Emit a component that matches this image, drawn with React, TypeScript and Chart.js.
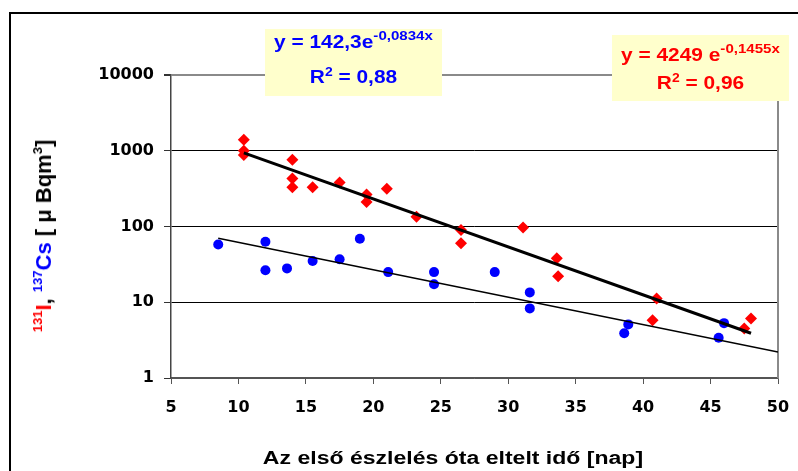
import React, { useEffect, useRef } from "react";
import { Chart, registerables } from "chart.js";

Chart.register(...registerables);

// I-131 measurements (red diamonds)
const iodineDays = [10.4, 10.4, 10.4, 14, 14, 14, 15.5, 17.5, 19.5, 19.5, 21, 23.2, 26.5, 26.5, 31.1, 33.6, 33.7, 40.7, 41, 47.5, 48];
const iodineValues = [1400, 1000, 880, 760, 430, 330, 330, 380, 265, 210, 315, 135, 90, 60, 97, 38, 22, 5.8, 11.2, 4.5, 6.1];

// Cs-137 measurements (blue circles)
const cesiumDays = [8.5, 12, 12, 13.6, 15.5, 17.5, 19, 21.1, 24.5, 24.5, 29, 31.6, 31.6, 38.6, 38.9, 45.6, 46];
const cesiumValues = [58, 63, 26.5, 28, 35, 37, 69, 25, 25, 17.3, 25, 13.5, 8.3, 3.9, 5.1, 3.4, 5.3];

// Exponential trendlines (straight on log axis): end points
const iodineTrendDays = [10.4, 48];
const iodineTrendValues = [936, 3.9];
const cesiumTrendDays = [8.5, 50];
const cesiumTrendValues = [70, 2.2];

// Axis ticks
const yTickValues = [1, 10, 100, 1000, 10000];
const xMin = 5;
const xMax = 50;
const xStep = 5;

const toPoints = (xs: number[], ys: number[]) => xs.map((x, i) => ({ x, y: ys[i] }));

const frameLines = {
  id: "frameLines",
  beforeDatasetsDraw(chart: any) {
    const { ctx, chartArea } = chart;
    ctx.save();
    ctx.strokeStyle = "#8a8a8a";
    ctx.lineWidth = 2;
    ctx.beginPath();
    ctx.moveTo(chartArea.right, chartArea.top);
    ctx.lineTo(chartArea.right, chartArea.bottom);
    ctx.stroke();
    ctx.restore();
  },
};

const tickFont = { family: "'DejaVu Sans', Arial, sans-serif", size: 16, weight: "bold" as const };

export default function App() {
  const canvasRef = useRef<HTMLCanvasElement | null>(null);

  useEffect(() => {
    document.body.style.margin = "0";
    const canvas = canvasRef.current;
    if (!canvas) return;
    const chart = new Chart(canvas, {
      type: "scatter",
      data: {
        datasets: [
          {
            label: "I-131 trend",
            data: toPoints(iodineTrendDays, iodineTrendValues),
            showLine: true,
            borderColor: "#000000",
            borderWidth: 3,
            pointRadius: 0,
            order: 0,
          },
          {
            label: "Cs-137 trend",
            data: toPoints(cesiumTrendDays, cesiumTrendValues),
            showLine: true,
            borderColor: "#000000",
            borderWidth: 1.5,
            pointRadius: 0,
            order: 0,
          },
          {
            label: "131I",
            data: toPoints(iodineDays, iodineValues),
            pointStyle: "rectRot",
            pointRadius: 6,
            backgroundColor: "#FF0000",
            borderColor: "#FF0000",
            borderWidth: 0,
            order: 1,
          },
          {
            label: "137Cs",
            data: toPoints(cesiumDays, cesiumValues),
            pointStyle: "circle",
            pointRadius: 5,
            backgroundColor: "#0000FF",
            borderColor: "#0000FF",
            borderWidth: 0,
            order: 1,
          },
        ],
      },
      options: {
        animation: false,
        responsive: false,
        maintainAspectRatio: false,
        layout: { padding: { top: 75, right: 20, bottom: 0, left: 0 } },
        plugins: { legend: { display: false }, tooltip: { enabled: false } },
        scales: {
          x: {
            type: "linear",
            min: xMin,
            max: xMax,
            afterFit: (s: any) => {
              s.height = 93;
              s.paddingLeft = 0;
              s.paddingRight = 0;
            },
            ticks: { stepSize: xStep, color: "#000", font: tickFont, padding: 14 },
            grid: { drawOnChartArea: false, drawTicks: true, tickLength: 6, color: "#555", tickColor: "#555" },
            border: { color: "#555", width: 1.5 },
          },
          y: {
            type: "logarithmic",
            min: 1,
            max: 10000,
            afterFit: (s: any) => {
              s.width = 171;
            },
            afterBuildTicks: (s: any) => {
              s.ticks = yTickValues.map((v) => ({ value: v }));
            },
            ticks: {
              color: "#000",
              font: tickFont,
              padding: 10,
              callback: (v: any) => String(v),
            },
            grid: {
              color: (c: any) => (c.tick && c.tick.value === 10000 ? "#8a8a8a" : c.tick && c.tick.value === 1 ? "#555" : "#000"),
              lineWidth: (c: any) => (c.tick && c.tick.value === 10000 ? 2 : 1),
              tickLength: 7,
              tickColor: "#333",
            },
            border: { color: "#444", width: 1.5 },
          },
        },
      },
      plugins: [frameLines],
    });
    return () => chart.destroy();
  }, []);

  const arial = "'Liberation Sans', Arial, sans-serif";
  const sup = (text: string, color: string, size: number, raise: number) => (
    <span style={{ fontSize: size, color, position: "relative", top: -raise, lineHeight: 0 }}>{text}</span>
  );

  return (
    <div style={{ position: "relative", width: 798, height: 471, overflow: "hidden", background: "#fff" }}>
      <div
        style={{
          position: "absolute",
          left: 9,
          top: 12,
          width: 900,
          height: 600,
          border: "2px solid #000",
          boxSizing: "border-box",
        }}
      />
      <canvas ref={canvasRef} width={798} height={471} style={{ position: "absolute", left: 0, top: 0, width: 798, height: 471 }} />

      {/* Cs-137 equation box */}
      <div style={{ position: "absolute", left: 265, top: 29, width: 177, height: 67, background: "#FFFFCC", fontFamily: arial, fontWeight: "bold", color: "#0000FF" }}>
        <div style={{ position: "absolute", left: 0, right: 0, top: 4, textAlign: "center", fontSize: 18, lineHeight: "18px", whiteSpace: "nowrap", transform: "scaleX(1.16)" }}>
          y = 142,3e{sup("-0,0834x", "#0000FF", 13, 8)}
        </div>
        <div style={{ position: "absolute", left: 0, right: 0, top: 39, textAlign: "center", fontSize: 18, lineHeight: "18px", whiteSpace: "nowrap", transform: "scaleX(1.16)" }}>
          R{sup("2", "#0000FF", 12, 7)} = 0,88
        </div>
      </div>

      {/* I-131 equation box */}
      <div style={{ position: "absolute", left: 612, top: 35, width: 177, height: 66, background: "#FFFFCC", fontFamily: arial, fontWeight: "bold", color: "#FF0000" }}>
        <div style={{ position: "absolute", left: 0, right: 0, top: 11, textAlign: "center", fontSize: 18, lineHeight: "18px", whiteSpace: "nowrap", transform: "scaleX(1.16)" }}>
          y = 4249 e{sup("-0,1455x", "#FF0000", 13, 8)}
        </div>
        <div style={{ position: "absolute", left: 0, right: 0, top: 39, textAlign: "center", fontSize: 18, lineHeight: "18px", whiteSpace: "nowrap", transform: "scaleX(1.16)" }}>
          R{sup("2", "#FF0000", 12, 7)} = 0,96
        </div>
      </div>

      {/* Y axis title */}
      <div
        style={{
          position: "absolute",
          left: 44,
          top: 236,
          transform: "translate(-50%, -50%) rotate(-90deg)",
          fontFamily: arial,
          fontWeight: "bold",
          fontSize: 22,
          lineHeight: "22px",
          whiteSpace: "nowrap",
          color: "#000",
        }}
      >
        {sup("131", "#FF0000", 13, 9)}
        <span style={{ color: "#FF0000" }}>I</span>,{" "}
        {sup("137", "#0000FF", 13, 9)}
        <span style={{ color: "#0000FF" }}>Cs</span> [ μ Bqm{sup("3", "#000", 13, 9)}]
      </div>

      {/* X axis title */}
      <div
        style={{
          position: "absolute",
          left: 453,
          top: 449,
          transform: "translateX(-50%) scaleX(1.28)",
          fontFamily: arial,
          fontWeight: "bold",
          fontSize: 18,
          lineHeight: "18px",
          whiteSpace: "nowrap",
          color: "#000",
        }}
      >
        Az első észlelés óta eltelt idő [nap]
      </div>
    </div>
  );
}
